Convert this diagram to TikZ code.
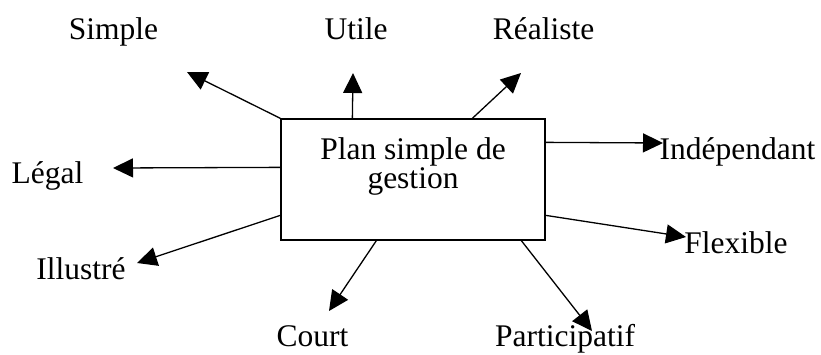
\documentclass[tikz,border=0pt]{standalone}
\usepackage{fontspec}
\setmainfont{Liberation Serif}
\usetikzlibrary{arrows.meta,calc}
\begin{document}
\begin{tikzpicture}[x=1pt,y=-1pt,
  lbl/.style={anchor=base,inner sep=0pt,font=\fontsize{31.5}{33}\selectfont},
  conn/.style={line width=1.3pt,-{Triangle[length=20pt,width=19pt]}},
  boxst/.style={draw,line width=1.3pt,minimum width=264pt,minimum height=121pt,inner sep=0pt}]
\useasboundingbox[fill=white] (0,0) rectangle (821,354);
\node[boxst] (plan) at (413,179.5) {};
\node[lbl] (pt1) at (413,159) {Plan simple de};
\node[lbl] (pt2) at (413,188) {gestion};
% labels
\node[lbl] (simple) at (113.5,39) {Simple};
\node[lbl] (utile) at (356,39) {Utile};
\node[lbl] (realiste) at (543.5,39) {Réaliste};
\node[lbl] (legal) at (47.5,183) {Légal};
\node[lbl] (illustre) at (81,279) {Illustré};
\node[lbl] (court) at (312.5,346) {Court};
\node[lbl] (particip) at (565,346) {Participatif};
\node[lbl] (indep) at (737.5,159) {Indépendant};
\node[lbl] (flex) at (736,253) {Flexible};
% arrow tips
\coordinate (tsimple) at (187,72);
\coordinate (tutile) at (353,73);
\coordinate (treal) at (521,73);
\coordinate (tlegal) at (113,168);
\coordinate (till) at (137,263);
\coordinate (tcourt) at (329,311);
\coordinate (tpart) at (592,331);
\coordinate (tflex) at (686,237);
\coordinate (tindep) at (663,143);
% connectors
\draw[conn] (plan.north west) -- (tsimple);
\draw[conn] ($(plan.north west)+(72,0)$) -- (tutile);
\draw[conn] ($(plan.north west)+(192,0)$) -- (treal);
\draw[conn] ($(plan.north west)+(0,49)$) -- (tlegal);
\draw[conn] ($(plan.north west)+(0,97)$) -- (till);
\draw[conn] ($(plan.south west)+(96,0)$) -- (tcourt);
\draw[conn] ($(plan.south west)+(241,0)$) -- (tpart);
\draw[conn] ($(plan.north east)+(0,97)$) -- (tflex);
\draw[conn] ($(plan.north east)+(0,24)$) -- (tindep);
\end{tikzpicture}
\end{document}
